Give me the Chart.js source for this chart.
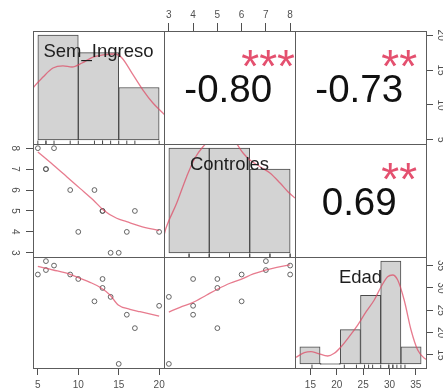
<!DOCTYPE html>
<html>
<head>
<meta charset="utf-8">
<script src="https://cdn.jsdelivr.net/npm/chart.js@4.4.1/dist/chart.umd.min.js"></script>
<style>
  html, body { margin: 0; padding: 0; background: #ffffff; }
  #wrap { position: relative; width: 443px; height: 392px; overflow: hidden; background: #ffffff; }
  #wrap canvas { position: absolute; left: 0; top: 0; }
</style>
</head>
<body>
<div id="wrap"></div>
<script>
// ---- observations (one entry per respondent) ----
const semIngreso = [5, 6, 6, 7, 9, 10, 12, 13, 13, 14, 15, 16, 17, 20];
const controles  = [8, 7, 7, 8, 6, 4, 6, 5, 5, 3, 3, 4, 5, 4];
const edad       = [33, 36, 34, 35, 33, 32, 27, 32, 30, 28, 13, 24, 21, 26];

const varNames = ['Sem_Ingreso', 'Controles', 'Edad'];

// ---- histogram break points ----
const semBreaks = [5, 10, 15, 20];
const controlesBreaks = [2, 4, 6, 8];
const edadBreaks = [10, 15, 20, 25, 30, 35, 40];

// ---- axis tick labels ----
const semTicks = [5, 10, 15, 20];
const controlesTicks = [3, 4, 5, 6, 7, 8];
const edadTicks = [15, 20, 25, 30, 35];

// ---- correlations shown in the upper panels ----
const corrLabels = ['-0.80', '-0.73', '0.69'];
const corrStars = ['***', '**', '**'];

// ---- density curves on the diagonal (histogram x units, scaled height) ----
const semDensX = [4.2, 4.4, 5.64, 6.87, 8.11, 9.22, 10.46, 11.82, 13.05, 14.54, 15.4, 16.64, 18.0, 19.23, 20.7, 21.0];
const semDensY = [0.47, 0.495, 0.60, 0.686, 0.706, 0.696, 0.734, 0.791, 0.811, 0.82, 0.782, 0.638, 0.476, 0.352, 0.237, 0.21];
const ctlDensX = [1.6, 1.76, 1.86, 2.39, 2.88, 3.29, 3.69, 3.94, 4.58, 5.27, 5.67, 6.01, 6.51, 7.0, 7.5, 7.89, 8.24, 8.4];
const ctlDensY = [0.12, 0.17, 0.237, 0.476, 0.728, 0.906, 1.014, 1.062, 1.15, 1.062, 0.954, 0.887, 0.823, 0.763, 0.667, 0.584, 0.524, 0.5];
const edaDensX = [8.5, 9.05, 11.1, 12.76, 14.4, 16.9, 18.5, 20.2, 22.2, 24.3, 26.4, 28.4, 30.1, 31.7, 32.95, 34.2, 35.8, 37.5, 39.15, 40.8, 41.5];
const edaDensY = [0.05, 0.064, 0.109, 0.119, 0.103, 0.077, 0.103, 0.167, 0.265, 0.378, 0.508, 0.622, 0.751, 0.848, 0.865, 0.816, 0.622, 0.330, 0.135, 0.054, 0.04];

// ---- smoothed fits in the lower panels ----
const semCtlFitX = [5, 6.91, 8.57, 10.21, 11.85, 13.09, 14.75, 15.98, 17.63, 20];
const semCtlFitY = [7.82, 7.2, 6.64, 6.08, 5.52, 5.05, 4.65, 4.49, 4.28, 4.06];
const semEdaFitX = [5, 6.91, 8.97, 10.21, 11.45, 12.68, 13.92, 14.94, 16.39, 17.63, 20];
const semEdaFitY = [34.8, 34.01, 33.05, 32.15, 31.26, 30.14, 28.42, 26.18, 25.22, 24.68, 23.7];
const ctlEdaFitX = [3, 3.46, 3.98, 4.56, 5.0, 5.52, 5.97, 6.48, 6.98, 7.45, 8];
const ctlEdaFitY = [24.6, 25.67, 26.7, 28.42, 29.7, 31.04, 31.93, 33.12, 34.01, 34.62, 35.15];

// ---- look ----
const FONT = "'Liberation Sans', Arial, Helvetica, sans-serif";
const AXIS_INK = '#505050';
const FRAME = '#5c5c5c';
const BAR_FILL = '#d3d3d3';
const BAR_EDGE = '#4a4a4a';
const CURVE = 'rgba(222, 72, 98, 0.72)';
const STAR = '#e4506f';
const POINT = '#555555';

const W = 443, H = 392;
const colEdges = [33, 164, 295, 426];
const rowEdges = [31, 144, 257, 368];
const AXIS_SIZE = { top: rowEdges[0], bottom: H - rowEdges[3], left: colEdges[0], right: W - colEdges[3] };

function padRange(lo, hi) { const d = (hi - lo) * 0.04; return [lo - d, hi + d]; }
const semR = padRange(Math.min(...semIngreso), Math.max(...semIngreso));
const ctlR = padRange(Math.min(...controles), Math.max(...controles));
const edaR = padRange(Math.min(...edad), Math.max(...edad));
const densR = padRange(0, 1);
const histRange = b => padRange(b[0], b[b.length - 1]);
const binCenters = b => b.slice(0, -1).map((v, i) => (v + b[i + 1]) / 2);

function binCounts(values, breaks) {
  const counts = new Array(breaks.length - 1).fill(0);
  values.forEach(v => {
    for (let i = 0; i < counts.length; i++) {
      const lo = breaks[i], hi = breaks[i + 1];
      if ((v > lo || (i === 0 && v >= lo)) && v <= hi) { counts[i]++; break; }
    }
  });
  return counts;
}

function hiddenScale(range, ticks) {
  return {
    type: 'linear', display: false, offset: false, grid: { offset: false },
    min: range[0], max: range[1],
    afterBuildTicks: s => { s.ticks = (ticks || []).map(v => ({ value: v })); }
  };
}

function axisScale(range, ticks, position, tickLen, pad) {
  const vertical = position === 'left' || position === 'right';
  const size = AXIS_SIZE[position];
  return {
    type: 'linear', position, offset: false, min: range[0], max: range[1],
    afterBuildTicks: s => { s.ticks = ticks.map(v => ({ value: v })); },
    afterFit: s => { if (vertical) { s.width = size; } else { s.height = size; } },
    grid: {
      display: true, offset: false, drawOnChartArea: false, drawTicks: true,
      tickLength: tickLen, tickColor: AXIS_INK, tickWidth: 1
    },
    border: { display: false },
    ticks: {
      autoSkip: false, color: AXIS_INK, padding: pad,
      font: { family: FONT, size: 10 },
      minRotation: vertical ? -90 : 0, maxRotation: vertical ? -90 : 0,
      crossAlign: vertical ? 'center' : 'near'
    }
  };
}

function curve(xs, ys, xAxisID, yAxisID) {
  return {
    type: 'line', data: xs.map((x, i) => ({ x, y: ys[i] })), xAxisID, yAxisID,
    borderColor: CURVE, borderWidth: 1.3, pointRadius: 0, fill: false,
    cubicInterpolationMode: 'monotone', order: 1
  };
}

function points(xs, ys) {
  return {
    type: 'scatter', data: xs.map((x, i) => ({ x, y: ys[i] })), xAxisID: 'x', yAxisID: 'y',
    pointStyle: 'circle', pointRadius: 2.4, pointBackgroundColor: 'rgba(0,0,0,0)',
    pointBorderColor: POINT, pointBorderWidth: 0.9, showLine: false, order: 2
  };
}

function histDatasets(values, breaks, dx, dy) {
  const counts = binCounts(values, breaks);
  const top = Math.max(...counts);
  const centers = binCenters(breaks);
  const rugY = densR[0] + 0.015 * (densR[1] - densR[0]);
  return [
    {
      type: 'bar', data: counts.map((n, i) => ({ x: centers[i], y: n / top })),
      xAxisID: 'xh', yAxisID: 'yh', backgroundColor: BAR_FILL, borderColor: BAR_EDGE,
      borderWidth: 1, borderSkipped: false, barPercentage: 1, categoryPercentage: 1,
      minBarLength: 1, order: 3
    },
    curve(dx, dy, 'xh', 'yh'),
    {
      type: 'scatter', data: values.map(v => ({ x: v, y: rugY })), xAxisID: 'xh', yAxisID: 'yh',
      pointStyle: 'line', pointRotation: 90, pointRadius: 1.7, pointBorderColor: BAR_EDGE,
      pointBorderWidth: 1, showLine: false, order: 2
    }
  ];
}

// frame round every panel
const framePlugin = {
  id: 'panelFrame',
  afterDraw(chart) {
    const { ctx, chartArea: a } = chart;
    ctx.save();
    ctx.strokeStyle = FRAME;
    ctx.lineWidth = 1;
    ctx.strokeRect(Math.round(a.left) + 0.5, Math.round(a.top) + 0.5,
      Math.round(a.right - a.left), Math.round(a.bottom - a.top));
    ctx.restore();
  }
};
Chart.register(framePlugin);

// text placed relative to the panel: fx = share of width, dy = baseline offset from the top
function textPlugin(items) {
  return {
    id: 'panelText',
    afterDatasetsDraw(chart) {
      const { ctx, chartArea: a } = chart;
      items.forEach(it => {
        ctx.save();
        ctx.font = `${it.size}px ${FONT}`;
        ctx.fillStyle = it.color;
        ctx.textAlign = 'center';
        ctx.textBaseline = 'alphabetic';
        ctx.fillText(it.text, a.left + it.fx * (a.right - a.left), a.top + it.dy);
        ctx.restore();
      });
    }
  };
}

const diagLabel = name => ({ text: name, fx: 0.5, dy: 26, size: 18.5, color: '#1e1e1e' });
const corrText = k => [
  { text: corrLabels[k], fx: 0.49, dy: 71, size: 38.5, color: '#111111' },
  { text: corrStars[k], fx: 0.795, dy: 50.5, size: 46, color: STAR }
];

const wrap = document.getElementById('wrap');
function panel(r, c, type, datasets, scales, axisSides, texts) {
  const pad = { left: colEdges[c], right: W - colEdges[c + 1], top: rowEdges[r], bottom: H - rowEdges[r + 1] };
  (axisSides || []).forEach(side => { pad[side] = 0; });
  const cv = document.createElement('canvas');
  cv.width = W; cv.height = H;
  wrap.appendChild(cv);
  return new Chart(cv, {
    type,
    data: { datasets },
    options: {
      responsive: false, animation: false, devicePixelRatio: 1, events: [],
      layout: { padding: pad },
      plugins: { legend: { display: false }, tooltip: { enabled: false } },
      scales
    },
    plugins: [textPlugin(texts || [])]
  });
}

// row 1
panel(0, 0, 'bar', histDatasets(semIngreso, semBreaks, semDensX, semDensY),
  { xh: hiddenScale(histRange(semBreaks), binCenters(semBreaks)), yh: hiddenScale(densR) },
  [], [diagLabel(varNames[0])]);
panel(0, 1, 'scatter', [],
  { x: axisScale(ctlR, controlesTicks, 'top', 8, 2), y: hiddenScale(semR) },
  ['top'], corrText(0));
panel(0, 2, 'scatter', [],
  { x: hiddenScale(edaR), y: axisScale(semR, semTicks, 'right', 7, 2) },
  ['right'], corrText(1));

// row 2
panel(1, 0, 'scatter', [points(semIngreso, controles), curve(semCtlFitX, semCtlFitY, 'x', 'y')],
  { x: hiddenScale(semR), y: axisScale(ctlR, controlesTicks, 'left', 7, 8) },
  ['left']);
panel(1, 1, 'bar', histDatasets(controles, controlesBreaks, ctlDensX, ctlDensY),
  { xh: hiddenScale(histRange(controlesBreaks), binCenters(controlesBreaks)), yh: hiddenScale(densR) },
  [], [diagLabel(varNames[1])]);
panel(1, 2, 'scatter', [],
  { x: hiddenScale(edaR), y: hiddenScale(ctlR) },
  [], corrText(2));

// row 3
panel(2, 0, 'scatter', [points(semIngreso, edad), curve(semEdaFitX, semEdaFitY, 'x', 'y')],
  { x: axisScale(semR, semTicks, 'bottom', 7, 4), y: hiddenScale(edaR) },
  ['bottom']);
panel(2, 1, 'scatter', [points(controles, edad), curve(ctlEdaFitX, ctlEdaFitY, 'x', 'y')],
  { x: hiddenScale(ctlR), y: hiddenScale(edaR) },
  []);
panel(2, 2, 'bar', histDatasets(edad, edadBreaks, edaDensX, edaDensY),
  {
    xh: hiddenScale(histRange(edadBreaks), binCenters(edadBreaks)), yh: hiddenScale(densR),
    x: axisScale(edaR, edadTicks, 'bottom', 7, 4), y: axisScale(edaR, edadTicks, 'right', 7, 2)
  },
  ['bottom', 'right'], [diagLabel(varNames[2])]);
</script>
</body>
</html>
